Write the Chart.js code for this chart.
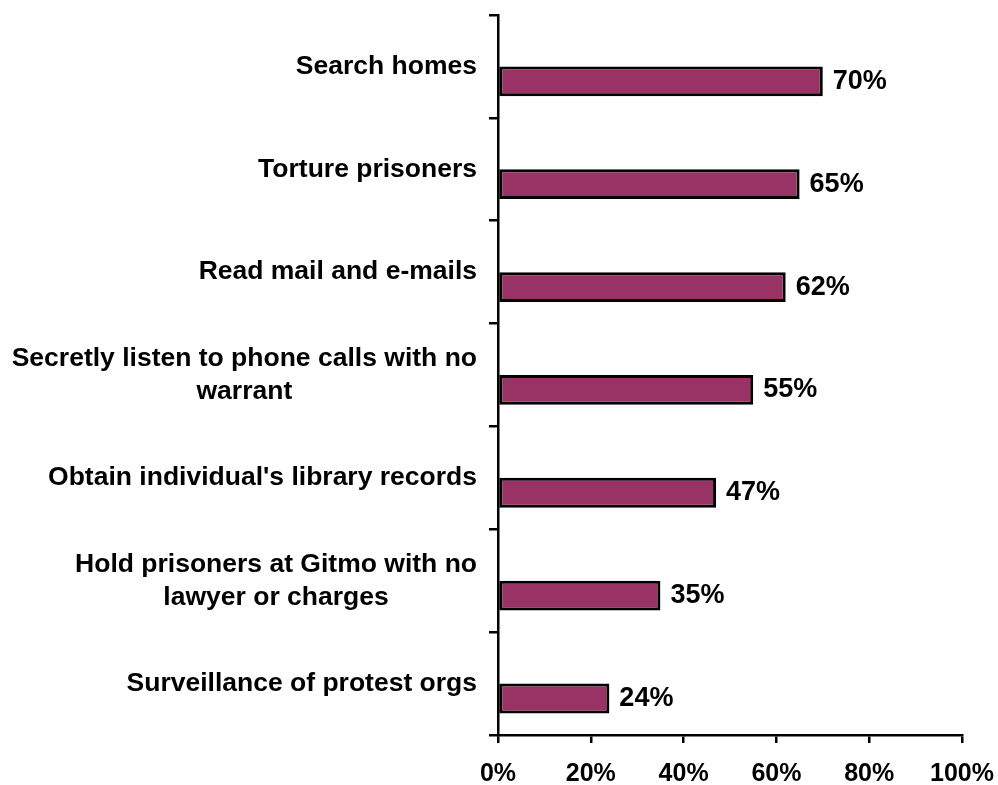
<!DOCTYPE html>
<html lang="en">
<head>
    <meta charset="UTF-8">
    <title>Government powers</title>
    <script src="https://cdn.jsdelivr.net/npm/chart.js"></script>
    <style>
        body { margin: 0; background: white; }
        #wrap { width: 998px; height: 785px; }
    </style>
</head>
<body>
    <div id="wrap"><canvas id="barChart" width="998" height="785"></canvas></div>

    <script>
        const categories = [
            ['Search homes'],
            ['Torture prisoners'],
            ['Read mail and e-mails'],
            ['Secretly listen to phone calls with no', 'warrant'],
            ["Obtain individual's library records"],
            ['Hold prisoners at Gitmo with no', 'lawyer or charges'],
            ['Surveillance of protest orgs']
        ];
        const values = [70, 65, 62, 55, 47, 35, 24];
        // empty first series, so the bars sit in the lower half of each band (as in the original)
        const blankSeries = [null, null, null, null, null, null, null];
        const xTicks = [0, 20, 40, 60, 80, 100];

        const FAMILY = '"Liberation Sans", Arial, sans-serif';

        const labelPlugin = {
            id: 'labels',
            afterDraw(chart) {
                const ctx = chart.ctx;
                const yScale = chart.scales.y;
                ctx.save();
                ctx.fillStyle = '#000';
                ctx.textBaseline = 'middle';
                ctx.textAlign = 'center';
                // category labels: block right aligned, lines centred inside the block
                ctx.font = 'bold 26.5px ' + FAMILY;
                const right = 477, lh = 33;
                categories.forEach((lines, i) => {
                    const yc = yScale.getPixelForTick(i);
                    const widest = Math.max(...lines.map(l => ctx.measureText(l).width));
                    const cx = right - widest / 2;
                    lines.forEach((l, j) => {
                        ctx.fillText(l, cx, yc + (j - (lines.length - 1) / 2) * lh);
                    });
                });
                // value labels
                ctx.font = 'bold 27px ' + FAMILY;
                ctx.textAlign = 'left';
                chart.getDatasetMeta(1).data.forEach((bar, i) => {
                    ctx.fillText(values[i] + '%', bar.x + 10, bar.y);
                });
                ctx.restore();
            }
        };

        new Chart(document.getElementById('barChart').getContext('2d'), {
            type: 'bar',
            data: {
                labels: categories,
                datasets: [
                    { data: blankSeries },
                    {
                        data: values,
                        backgroundColor: '#993366',
                        borderColor: '#000',
                        borderWidth: 3,
                        borderSkipped: false
                    }
                ]
            },
            options: {
                indexAxis: 'y',
                responsive: false,
                animation: false,
                categoryPercentage: 0.58,
                barPercentage: 1,
                layout: { padding: { top: 15, right: 36, bottom: 0, left: 0 } },
                plugins: { legend: { display: false }, tooltip: { enabled: false } },
                scales: {
                    x: {
                        min: 0,
                        max: 100,
                        afterBuildTicks: s => { s.ticks = xTicks.map(v => ({ value: v })); },
                        afterFit: s => { s.height = 50; s.paddingLeft = 0; s.paddingRight = 0; },
                        border: { display: true, color: '#000', width: 2.5 },
                        grid: { drawOnChartArea: false, drawTicks: true, tickLength: 8, color: '#000', lineWidth: 2.5 },
                        ticks: {
                            padding: 16,
                            color: '#000',
                            font: { family: FAMILY, size: 25, weight: 'bold' },
                            callback: v => v + '%'
                        }
                    },
                    y: {
                        afterFit: s => { s.width = 498; s.paddingTop = 0; s.paddingBottom = 0; },
                        border: { display: true, color: '#000', width: 2.5 },
                        grid: { offset: true, drawOnChartArea: false, drawTicks: true, tickLength: 9, color: '#000', lineWidth: 2.5 },
                        ticks: { display: false }
                    }
                }
            },
            plugins: [labelPlugin]
        });
    </script>
</body>
</html>
